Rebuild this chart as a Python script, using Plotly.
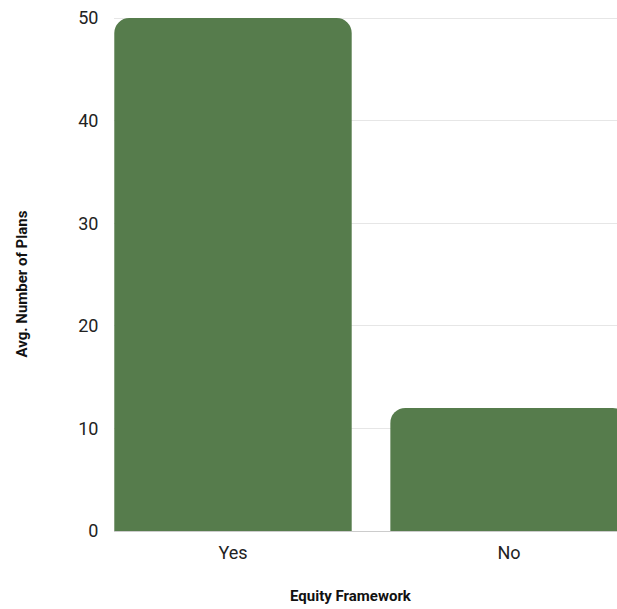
import plotly.graph_objects as go

categories = ["Yes", "No"]
avg_plans = [50, 12]
x_title = "Equity Framework"
y_title = "Avg. Number of Plans"

fig = go.Figure(
    go.Bar(
        x=categories,
        y=avg_plans,
        marker=dict(color="#567c4c", cornerradius=15, line=dict(width=0)),
        width=0.86,
    )
)

title_font = dict(family="Roboto", size=15, color="#111111", weight="bold")

fig.update_layout(
    width=617,
    height=609,
    margin=dict(l=114, r=0, t=17, b=78),
    plot_bgcolor="white",
    paper_bgcolor="white",
    showlegend=False,
    font=dict(family="Roboto", size=18, color="#222222"),
    annotations=[
        dict(
            text=x_title, xref="paper", yref="paper", x=0.471, y=0,
            xanchor="center", yanchor="middle", yshift=-65,
            showarrow=False, font=title_font,
        ),
        dict(
            text=y_title, xref="paper", yref="paper", x=0, y=0.4795,
            xanchor="center", yanchor="middle", xshift=-92, textangle=-90,
            showarrow=False, font=title_font,
        ),
    ],
)

fig.update_xaxes(
    range=[-0.431, 1.391],
    showgrid=False,
    showline=True,
    linecolor="#cccccc",
    linewidth=1,
    ticks="outside",
    ticklen=5,
    tickcolor="rgba(0,0,0,0)",
    tickfont=dict(family="Roboto", size=18, color="#222222"),
)

fig.update_yaxes(
    range=[0, 50.1],
    tickvals=[0, 10, 20, 30, 40, 50],
    showgrid=True,
    gridcolor="#e6e6e6",
    gridwidth=1,
    zeroline=False,
    ticks="outside",
    ticklen=11,
    tickcolor="rgba(0,0,0,0)",
    tickfont=dict(family="Roboto", size=18, color="#222222"),
)

fig.write_html("out.html")
